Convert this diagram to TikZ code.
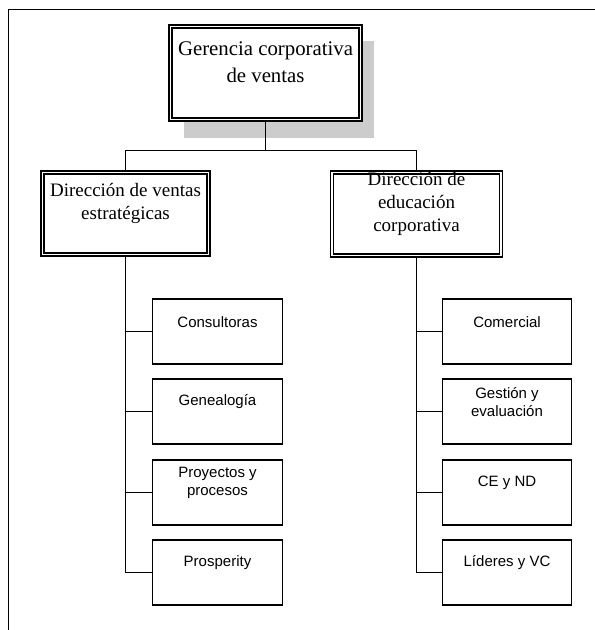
\documentclass[tikz,border=0pt]{standalone}
\usepackage{fontspec}
\setmainfont{Liberation Serif}
\newfontfamily\leaffont{Liberation Sans}
\usetikzlibrary{calc}
\definecolor{shadowgray}{RGB}{204,204,204}
\tikzset{
  x=1bp, y=-1bp,
  wire/.style={line width=1.6bp, draw=black},
  headbox/.style={draw=black, line width=1.1bp, double=white, double distance=1.9bp,
                  fill=white, inner sep=0pt},
  leafbox/.style={draw=black, line width=1.4bp, fill=white, inner sep=0pt,
                  minimum width=129.5bp, minimum height=65bp},
  toptext/.style={anchor=center, align=center, inner sep=0pt,
                  font=\fontsize{20.8bp}{27bp}\selectfont},
  midtext/.style={anchor=center, align=center, inner sep=0pt,
                  font=\fontsize{19bp}{22.8bp}\selectfont},
  leaftext/.style={anchor=center, align=center, inner sep=0pt, yshift=-23.5bp,
                  font=\leaffont\fontsize{15bp}{17.5bp}\selectfont},
}
\begin{document}
\begin{tikzpicture}
\useasboundingbox (0,0) rectangle (595,630);

% page frame (top and left edges only)
\draw[line width=1.8bp] (8.5,630) -- (8.5,9.5) -- (595,9.5);

% top level with its shadow
\coordinate (topc) at (265.5,73);
\fill[shadowgray] ($(topc)+(-81.5,-32)$) rectangle ($(topc)+(108.5,65)$);
\node[headbox, minimum width=190bp, minimum height=93bp,
      label={[toptext, yshift=-36.5bp]north:Gerencia corporativa\\de ventas}]
      (top) at (topc) {};

% second level
\node[headbox, minimum width=166bp, minimum height=82bp,
      label={[midtext, yshift=-31.5bp]north:Dirección de ventas\\estratégicas}]
      (dl) at (125.5,213.5) {};
\node[headbox, minimum width=169bp, minimum height=83bp,
      label={[midtext, yshift=-32bp]north:Dirección de\\educación\\corporativa}]
      (dr) at (416.5,214) {};

% third level, left column
\node[leafbox, label={[leaftext]north:Consultoras}] (l1) at (217.5,331.5) {};
\node[leafbox, label={[leaftext]north:Genealogía}] (l2) at (217.5,411.5) {};
\node[leafbox, label={[leaftext]north:Proyectos y\\procesos}] (l3) at (217.5,492.5) {};
\node[leafbox, label={[leaftext]north:Prosperity}] (l4) at (217.5,572.5) {};

% third level, right column
\node[leafbox, label={[leaftext]north:Comercial}] (r1) at (507,331.5) {};
\node[leafbox, label={[leaftext]north:Gestión y\\evaluación}] (r2) at (507,411.5) {};
\node[leafbox, label={[leaftext]north:CE y ND}] (r3) at (507,492.5) {};
\node[leafbox, label={[leaftext]north:Líderes y VC}] (r4) at (507,572.5) {};

% connectors
\coordinate (bus) at (265.5,150.5);
\draw[wire] (top.south) -- (bus);
\draw[wire] (dl.north) |- (bus) -| (dr.north);
\foreach \n in {l1,l2,l3,l4} \draw[wire] (dl.south) |- (\n.west);
\foreach \n in {r1,r2,r3,r4} \draw[wire] (dr.south) |- (\n.west);
\end{tikzpicture}
\end{document}
